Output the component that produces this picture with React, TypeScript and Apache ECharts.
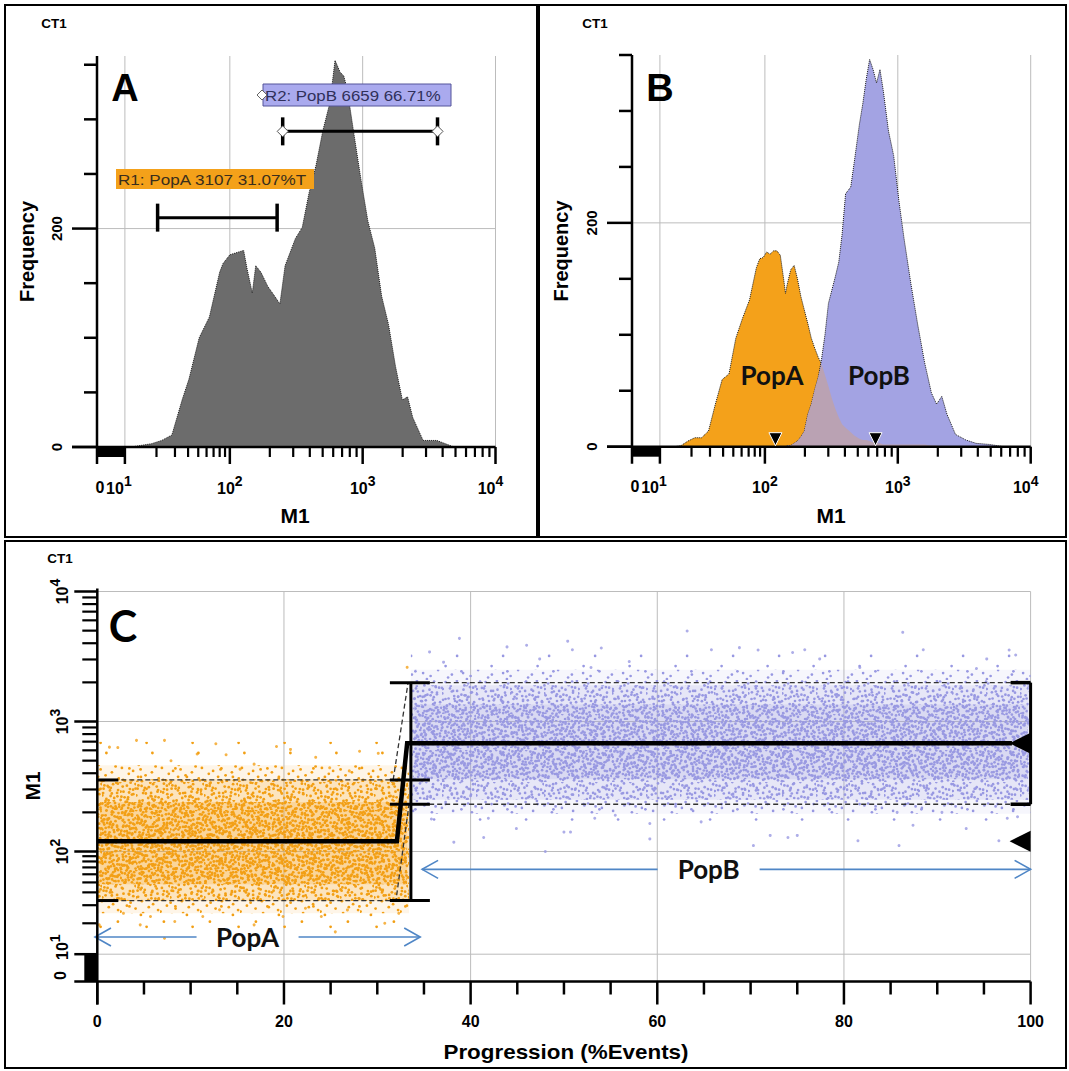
import React, { useEffect, useRef } from "react";
import * as echarts from "echarts";

// ---------------- Panel A: all events (log10 of M1, frequency) ----------------
const histALog10M1 = [1.058, 1.253, 1.351, 1.448, 1.545, 1.61, 1.708, 1.805, 1.903, 1.935, 2.0, 2.078, 2.104, 2.13, 2.169, 2.195, 2.234, 2.286, 2.338, 2.377, 2.416, 2.494, 2.545, 2.597, 2.649, 2.701, 2.753, 2.792, 2.831, 2.857, 2.883, 2.935, 2.987, 3.039, 3.091, 3.143, 3.195, 3.247, 3.299, 3.338, 3.377, 3.455, 3.558, 3.688];
const histAFreq = [0, 3, 6, 11, 43, 62, 100, 119, 160, 168, 176, 179, 180, 163, 141, 166, 160, 147, 138, 131, 166, 191, 201, 233, 258, 290, 315, 354, 343, 340, 328, 286, 245, 207, 182, 138, 112, 74, 43, 46, 27, 6, 6, 0];

// ---------------- Panel B: the two populations on common bins ----------------
const histBLog10M1 = [1.072, 1.137, 1.202, 1.267, 1.332, 1.397, 1.463, 1.528, 1.593, 1.658, 1.723, 1.788, 1.853, 1.919, 1.951, 1.984, 2.013, 2.039, 2.065, 2.09, 2.116, 2.142, 2.155, 2.168, 2.194, 2.22, 2.245, 2.271, 2.297, 2.323, 2.349, 2.375, 2.401, 2.426, 2.452, 2.478, 2.504, 2.53, 2.556, 2.581, 2.607, 2.646, 2.672, 2.711, 2.736, 2.762, 2.788, 2.814, 2.84, 2.866, 2.891, 2.93, 2.969, 3.008, 3.047, 3.098, 3.15, 3.202, 3.253, 3.292, 3.331, 3.37, 3.434, 3.512, 3.589, 3.692, 3.796];
const histBPopA = [0, 0, 1, 5, 8, 8, 14, 38, 60, 65, 97, 115, 131, 160, 168, 169, 174, 172, 175, 175, 171, 149, 137, 145, 158, 162, 150, 134, 122, 110, 97, 88, 80, 74, 64, 54, 43, 34, 26, 20, 17, 13, 10, 7, 6, 6, 5, 4, 3, 3, 2, 2, 2, 2, 2, 2, 2, 2, 1, 1, 0, 0, 0, 0, 0, 0, 0];
const histBPopB = [0, 0, 0, 0, 0, 0, 0, 0, 0, 0, 0, 0, 0, 0, 0, 0, 0, 0, 0, 0, 0, 0, 0, 1, 1, 3, 5, 9, 14, 29, 38, 51, 62, 78, 100, 128, 140, 152, 165, 190, 226, 232, 254, 288, 306, 328, 346, 337, 325, 337, 318, 282, 260, 220, 186, 146, 109, 75, 48, 38, 45, 29, 11, 6, 3, 2, 0];

// ---------------- Axis ticks ----------------
const freqTicks = [0, 50, 100, 150, 200, 250, 300, 350];
const freqLabelTicks = [0, 200];
const decadeTicks = [10, 100, 1000, 10000];
const minorLogTicks = [20, 30, 40, 50, 60, 70, 80, 90, 200, 300, 400, 500, 600, 700, 800, 900, 2000, 3000, 4000, 5000, 6000, 7000, 8000, 9000];
const progressionTicks = [0, 20, 40, 60, 80, 100];
const progressionMinorTicks = [5, 10, 15, 25, 30, 35, 45, 50, 55, 65, 70, 75, 85, 90, 95];

// ---------------- Gates (panel A): [low M1, high M1, frequency level] ----------------
const gateR1 = [20.5, 227, 210];
const gateR2 = [250, 3660, 289];
const gateLabels = ["R1: PopA 3107 31.07%T", "R2: PopB 6659 66.71%"];

// ---------------- Medians (M1) ----------------
const medians = [120, 680];

// ---------------- Panel C statistics ----------------
const splitProgression = 33.6;
const popABounds = [33.3, 355];
const popBBounds = [231, 1990];
const upperEnvelope = [[0, 355], [31.7, 355], [33.3, 1990], [100, 1990]];
const lowerEnvelope = [[0, 33.3], [32.0, 33.3], [33.4, 231], [100, 231]];
const medianPath = [[0, 120], [32.1, 120], [33.2, 680], [98, 680]];

// dense event clouds: [start %, end %, low M1, high M1, density level]
const popABands = [
  [0, 33.4, 16, 700, 0],
  [0, 33.4, 25, 460, 1],
  [0, 33.4, 33, 360, 2],
  [0.3, 33.2, 48, 240, 3],
];
const popBBands = [
  [33.6, 100, 140, 3300, 0],
  [33.6, 100, 195, 2500, 1],
  [33.8, 99.8, 250, 1900, 2],
  [34, 99.7, 360, 1350, 3],
];
// isolated events: [progression %, M1]
const popAOutliers = [[1.3, 635], [2.2, 630], [4.2, 716], [7.2, 716], [10.7, 563], [12.7, 675], [13.8, 555], [16.8, 470], [19.2, 643], [20.7, 610], [23.4, 530], [28.1, 590], [30.1, 569], [33.2, 2610], [7.9, 499], [15.3, 430], [24.9, 440], [27.0, 417], [0.2, 19.3], [2.8, 25], [4.6, 19.3], [5.7, 23.3], [8.3, 20.8], [11.3, 23.3], [13.1, 27.1], [16.8, 19.3], [19.9, 23.3], [22.3, 28], [24.0, 23.3], [25.5, 16.5], [26.8, 27], [30.8, 20], [32.3, 25], [7.2, 14.3]];
const popBOutliers = [[50.4, 4150], [54.0, 3680], [50.9, 3560], [57.0, 2890], [63.2, 4970], [65.8, 3560], [68.8, 3700], [70.8, 3550], [74.5, 3390], [75.8, 3560], [77.4, 3030], [86.3, 4850], [88.5, 3560], [94.2, 2560], [97.7, 3550], [98.4, 3250], [95.3, 3030], [81.7, 2600], [47.4, 3030], [52.9, 2600], [38.8, 4360], [35.6, 3430], [37.1, 2860], [43.9, 3750], [46.0, 3860], [48, 100], [50, 141], [50.7, 141], [59.2, 125], [59.2, 164], [64.7, 169], [70.3, 111], [72.1, 133], [74, 128], [75, 133], [81.5, 121], [85.7, 200], [85.9, 111], [87.4, 159], [93.1, 150], [96.6, 121], [97.5, 180], [98.6, 185], [53.3, 180], [55.5, 190], [90.5, 200], [38.2, 118], [41.4, 128], [44.9, 150], [41.9, 180], [35.8, 178]];

// population arrows: from %, to %, M1 level, label position %
const arrowLabels = ["PopA", "PopB"];
const arrowSpans = [[-0.25, 34.6, 14.7, 16.1], [34.8, 100, 67, 65.5]];

// ---------------- Scale: 0 region + compressed first decade + log ----------------
const ZF = 0.21;
const uLog = (L: number) => (L >= 2 ? L - 1 : ZF + (L - 1) * (1 - ZF));
const uVal = (v: number) => (v <= 0 ? 0 : v < 10 ? (ZF * v) / 10 : uLog(Math.log10(v)));

const FAM = "'Liberation Sans', Arial, sans-serif";
const FAM2 = "Lato, 'Open Sans', sans-serif";
const BLACK = "#000";
const GRID_GRAY = "#bcbcbc";
const ORANGE = "#F4A11A";
const LAVENDER = "#A3A3E3";
const MAUVE = "#BAA2B3";
const HIST_GRAY = "#6c6c6c";
const BLUE = "#4F86C6";

function seg(x1: number, y1: number, x2: number, y2: number, w = 2.5, color = BLACK, dash?: number[]) {
  const style: any = { stroke: color, lineWidth: w };
  if (dash) style.lineDash = dash;
  return { type: "line", shape: { x1, y1, x2, y2 }, style };
}

function txt(x: number, y: number, text: string, o: any = {}) {
  const style: any = {
    text,
    fill: o.color || BLACK,
    fontSize: o.size || 16,
    fontFamily: o.fam || FAM,
    fontWeight: o.weight || "bold",
    align: o.align || "center",
    verticalAlign: o.va || "middle",
    textAlign: o.align || "center",
    textVerticalAlign: o.va || "middle",
  };
  if (o.rich) style.rich = o.rich;
  const el: any = { type: "text", x, y, rotation: o.rot || 0, scaleX: o.sx || 1, scaleY: o.sy || 1, silent: true, style };
  if (o.z != null) el.z = o.z;
  return el;
}

function supTxt(x: number, y: number, base: string, exp: string, o: any = {}) {
  return txt(x, y, `{b|${base}}{s|${exp}}`, {
    ...o,
    rich: {
      b: { fontSize: 16, fontWeight: "bold", fontFamily: FAM, lineHeight: 22, verticalAlign: "bottom", fill: BLACK },
      s: { fontSize: 14, fontWeight: "bold", fontFamily: FAM, verticalAlign: "top", fill: BLACK },
    },
  });
}

function halton(i: number, b: number) {
  let f = 1, r = 0;
  while (i > 0) {
    f /= b;
    r += f * (i % b);
    i = Math.floor(i / b);
  }
  return r;
}

function dotTile(color: string, n: number, size: number, rad: number, offset: number) {
  let c = "";
  for (let i = 1; i <= n; i++) {
    const x = halton(i + offset, 2) * size;
    const y = halton(i + offset, 3) * size;
    c += `<circle cx="${x.toFixed(1)}" cy="${y.toFixed(1)}" r="${rad}" fill="${color}"/>`;
  }
  const svg = `<svg xmlns="http://www.w3.org/2000/svg" width="${size}" height="${size}">${c}</svg>`;
  return { image: "data:image/svg+xml;charset=utf-8," + encodeURIComponent(svg), repeat: "repeat", imageWidth: size, imageHeight: size };
}

const tileSizes = [46, 40, 34, 30];
const tileCountsA = [5, 26, 44, 44];
const tileCountsB = [5, 24, 40, 40];
const baseOpacityA = [0, 0.1, 0.2, 0.22];
const baseOpacityB = [0, 0.1, 0.18, 0.2];
const tilesA = tileSizes.map((s, i) => dotTile("#F29F14", tileCountsA[i], s, 1.4, 7 + 19 * i));
const tilesB = tileSizes.map((s, i) => dotTile("#9898E2", tileCountsB[i], s, 1.35, 11 + 23 * i));

function histGridLines(maxF: number) {
  return (params: any, api: any) => {
    const P = (u: number, f: number) => api.coord([u, f]);
    const [x0, yb] = P(0, 0);
    const x3 = P(3, 0)[0];
    const yTop = P(0, maxF)[1];
    const ch: any[] = decadeTicks.map((v) => {
      const x = P(uVal(v), 0)[0];
      return seg(x, yTop, x, yb, 1, GRID_GRAY);
    });
    const y200 = P(0, 200)[1];
    ch.push(seg(x0, y200, x3, y200, 1, GRID_GRAY));
    return { type: "group", children: ch };
  };
}

function histDecor(maxF: number) {
  return (params: any, api: any) => {
    const P = (u: number, f: number) => api.coord([u, f]);
    const [x0, yb] = P(0, 0);
    const x3 = P(3, 0)[0];
    const yTop = P(0, maxF)[1];
    const xz = P(uVal(10), 0)[0];
    const ch: any[] = [];
    ch.push(seg(x0 - 25, yb, x3, yb));
    ch.push(seg(x0, yTop, x0, yb + 17));
    freqTicks.forEach((f) => {
      const y = P(0, f)[1];
      ch.push(seg(x0 - (freqLabelTicks.includes(f) ? 25 : 13), y, x0, y));
    });
    ch.push({ type: "rect", shape: { x: x0, y: yb, width: xz - x0, height: 10 }, style: { fill: BLACK } });
    decadeTicks.forEach((v) => {
      const x = P(uVal(v), 0)[0];
      ch.push(seg(x, yb, x, yb + 17));
    });
    minorLogTicks.forEach((v) => {
      const x = P(uVal(v), 0)[0];
      ch.push(seg(x, yb, x, yb + 10, 2.2));
    });
    freqLabelTicks.forEach((f) => {
      const y = P(0, f)[1];
      ch.push(txt(x0 - 41, y, String(f), { rot: Math.PI / 2, size: 15 }));
    });
    ch.push(txt(x0 + 3, yb + 40, "0", { size: 16 }));
    decadeTicks.forEach((v, i) => {
      const x = P(uVal(v), 0)[0];
      const dx = i === 0 ? -6 : i === 3 ? -5 : 0;
      ch.push(supTxt(x + dx, yb + 38, "10", String(Math.round(Math.log10(v)))));
    });
    return { type: "group", children: ch };
  };
}

function medianMarkers(params: any, api: any) {
  const ch: any[] = medians.map((m) => {
    const [x, yb] = api.coord([uVal(m), 0]);
    return {
      type: "polygon",
      shape: { points: [[x - 6.5, yb - 14], [x + 6.5, yb - 14], [x, yb - 1]] },
      style: { fill: BLACK, stroke: "#fff", lineWidth: 1 },
    };
  });
  return { type: "group", children: ch };
}

function gateRender(params: any, api: any) {
  const lo = api.value(0), hi = api.value(1), lvl = api.value(2);
  const a = api.coord([uVal(lo), lvl]);
  const b = api.coord([uVal(hi), lvl]);
  const ch: any[] = [seg(a[0], a[1], b[0], b[1], 3), seg(a[0], a[1] - 14, a[0], a[1] + 14, 3.5), seg(b[0], b[1] - 14, b[0], b[1] + 14, 3.5)];
  if (params.dataIndex === 1) {
    [a, b].forEach((p) => {
      ch.push({
        type: "polygon",
        shape: { points: [[p[0] - 5.5, p[1]], [p[0], p[1] - 5.5], [p[0] + 5.5, p[1]], [p[0], p[1] + 5.5]] },
        style: { fill: "#fff", stroke: "#555", lineWidth: 1 },
      });
    });
  }
  return { type: "group", children: ch };
}

function cGridLines(params: any, api: any) {
  const P = (x: number, u: number) => api.coord([x, u]);
  const [x0, yb] = P(0, 0);
  const xE = P(100, 0)[0];
  const yTop = P(0, 3)[1];
  const ch: any[] = [];
  progressionTicks.slice(1).forEach((t) => {
    const x = P(t, 0)[0];
    ch.push(seg(x, yTop, x, yb, 1, GRID_GRAY));
  });
  decadeTicks.forEach((v) => {
    const y = P(0, uVal(v))[1];
    ch.push(seg(x0, y, xE, y, 1, GRID_GRAY));
  });
  return { type: "group", children: ch };
}

function cDecor(params: any, api: any) {
  const P = (x: number, u: number) => api.coord([x, u]);
  const [x0, yb] = P(0, 0);
  const xE = P(100, 0)[0];
  const yTop = P(0, 3)[1];
  const yz = P(0, uVal(10))[1];
  const ch: any[] = [];
  ch.push(seg(x0, yb, xE, yb));
  ch.push(seg(x0, yTop - 3, x0, yb + 23));
  ch.push(seg(x0 - 23, yb, x0, yb));
  decadeTicks.forEach((v) => {
    const y = P(0, uVal(v))[1];
    ch.push(seg(x0 - 23, y, x0, y));
  });
  minorLogTicks.forEach((v) => {
    const y = P(0, uVal(v))[1];
    ch.push(seg(x0 - 15, y, x0, y, 2.2));
  });
  ch.push({ type: "rect", shape: { x: x0 - 13, y: yz, width: 13, height: yb - yz }, style: { fill: BLACK } });
  progressionTicks.forEach((t) => {
    const x = P(t, 0)[0];
    ch.push(seg(x, yb, x, yb + 23));
    ch.push(txt(x, yb + 40, String(t), { size: 16 }));
  });
  progressionMinorTicks.forEach((t) => {
    const x = P(t, 0)[0];
    ch.push(seg(x, yb, x, yb + 13));
  });
  decadeTicks.forEach((v, i) => {
    const y = P(0, uVal(v))[1];
    const e = String(Math.round(Math.log10(v)));
    ch.push(supTxt(x0 - 38, y + (i === 0 ? -7 : 0), "10", e, { rot: Math.PI / 2 }));
  });
  ch.push(txt(x0 - 37, yb - 6, "0", { size: 16, rot: Math.PI / 2 }));
  return { type: "group", children: ch };
}

function cBands(tiles: any[], color: string, baseOpacity: number[]) {
  return (params: any, api: any) => {
    const x0 = api.value(0), x1 = api.value(1), lo = api.value(2), hi = api.value(3), lvl = api.value(4);
    const p0 = api.coord([x0, uVal(hi)]);
    const p1 = api.coord([x1, uVal(lo)]);
    const shape = { x: p0[0], y: p0[1], width: p1[0] - p0[0], height: p1[1] - p0[1] };
    return {
      type: "group",
      children: [
        { type: "rect", shape, style: { fill: color, opacity: baseOpacity[lvl] } },
        { type: "rect", shape, style: { fill: tiles[lvl] } },
      ],
    };
  };
}

function cStats(params: any, api: any) {
  const P = (x: number, v: number) => api.coord([x, uVal(v)]);
  const ch: any[] = [];
  const dash = [5, 3];
  [upperEnvelope, lowerEnvelope].forEach((env) => {
    ch.push({ type: "polyline", shape: { points: env.map(([x, v]) => P(x, v)) }, style: { stroke: "#333", lineWidth: 1.3, lineDash: dash, fill: null } });
  });
  ch.push({ type: "polyline", shape: { points: medianPath.map(([x, v]) => P(x, v)) }, style: { stroke: BLACK, lineWidth: 4.5, fill: null } });
  const s0 = P(splitProgression, popABounds[0]);
  const s1 = P(splitProgression, popBBounds[1]);
  ch.push(seg(s0[0], s0[1], s1[0], s1[1], 3));
  const e0 = P(100, popBBounds[0]);
  const e1 = P(100, popBBounds[1]);
  ch.push(seg(e0[0], e0[1], e1[0], e1[1], 3));
  popABounds.forEach((v) => {
    const p = P(0, v);
    ch.push(seg(p[0], p[1], p[0] + 21, p[1], 3));
  });
  [...popABounds, ...popBBounds].forEach((v) => {
    const p = P(splitProgression, v);
    ch.push(seg(p[0] - 21, p[1], p[0] + 19, p[1], 3));
  });
  popBBounds.forEach((v) => {
    const p = P(100, v);
    ch.push(seg(p[0] - 20, p[1], p[0], p[1], 3.5));
  });
  medians.forEach((m) => {
    const p = P(100, m);
    ch.push({ type: "polygon", shape: { points: [[p[0] - 21, p[1]], [p[0], p[1] - 10.5], [p[0], p[1] + 10.5]] }, style: { fill: BLACK } });
  });
  return { type: "group", children: ch };
}

function cArrows(params: any, api: any) {
  const ch: any[] = [];
  arrowSpans.forEach(([from, to, level, at], i) => {
    const a = api.coord([from, uVal(level)]);
    const b = api.coord([to, uVal(level)]);
    const m = api.coord([at, uVal(level)]);
    const y = a[1];
    ch.push(seg(a[0], y, m[0] - 51, y, 1.6, BLUE));
    ch.push(seg(m[0] + 51, y, b[0], y, 1.6, BLUE));
    ch.push({ type: "polyline", shape: { points: [[a[0] + 16, y - 9], [a[0], y], [a[0] + 16, y + 9]] }, style: { stroke: BLUE, lineWidth: 1.6, fill: null } });
    ch.push({ type: "polyline", shape: { points: [[b[0] - 16, y - 9], [b[0], y], [b[0] - 16, y + 9]] }, style: { stroke: BLUE, lineWidth: 1.6, fill: null } });
    ch.push(txt(m[0], y, arrowLabels[i], { fam: FAM2, size: 26, color: "#111" }));
  });
  return { type: "group", children: ch };
}

function gText(x: number, y: number, text: string, o: any = {}) {
  return txt(x, y, text, { ...o, z: 100 });
}

function buildOption(): any {
  const areaLine = (xi: number, data: number[][], color: string, outline: boolean, z: number) => ({
    type: "line",
    xAxisIndex: xi,
    yAxisIndex: xi,
    data,
    symbol: "none",
    silent: true,
    z,
    lineStyle: outline ? { color: "#1a1a1a", width: 1, type: "dotted" } : { width: 0, opacity: 0 },
    areaStyle: { color, opacity: 1 },
  });
  const custom = (xi: number, renderItem: any, z: number, data: any[] = [[0, 0]]) => ({
    type: "custom",
    xAxisIndex: xi,
    yAxisIndex: xi,
    data,
    renderItem,
    z,
    silent: true,
    clip: false,
  });

  const histA = histALog10M1.map((L, i) => [uLog(L), histAFreq[i]]);
  const bA = histBLog10M1.map((L, i) => [uLog(L), histBPopA[i]]);
  const bB = histBLog10M1.map((L, i) => [uLog(L), histBPopB[i]]);
  const bAB = histBLog10M1.map((L, i) => [uLog(L), Math.min(histBPopA[i], histBPopB[i])]);

  const graphicEls: any[] = [
    { type: "rect", z: 100, shape: { x: 5, y: 5, width: 532, height: 532 }, style: { fill: "none", stroke: BLACK, lineWidth: 2 } },
    { type: "rect", z: 100, shape: { x: 539, y: 5, width: 527, height: 532 }, style: { fill: "none", stroke: BLACK, lineWidth: 2 } },
    { type: "rect", z: 100, shape: { x: 5, y: 541, width: 1061, height: 527 }, style: { fill: "none", stroke: BLACK, lineWidth: 2 } },
    gText(54, 24, "CT1", { size: 12, sx: 1.12 }),
    gText(595, 24, "CT1", { size: 12, sx: 1.12 }),
    gText(60, 559, "CT1", { size: 12, sx: 1.12 }),
    gText(125, 88, "A", { size: 38 }),
    gText(660, 88, "B", { size: 38 }),
    gText(123, 625, "C", { size: 43, fam: FAM2 }),
    gText(27, 251.5, "Frequency", { size: 20, rot: Math.PI / 2 }),
    gText(561, 251, "Frequency", { size: 20, rot: Math.PI / 2 }),
    gText(295, 515, "M1", { size: 21 }),
    gText(831, 515, "M1", { size: 21 }),
    gText(32, 786, "M1", { size: 21, rot: Math.PI / 2 }),
    gText(566, 1052, "Progression (%Events)", { size: 20, sx: 1.12 }),
    gText(772, 375, "PopA", { size: 26, fam: FAM2, color: "#111" }),
    gText(879, 375, "PopB", { size: 26, fam: FAM2, color: "#111" }),
    { type: "rect", z: 100, shape: { x: 116, y: 169, width: 198, height: 20 }, style: { fill: ORANGE } },
    gText(118, 179.5, gateLabels[0], { size: 14.5, weight: "normal", align: "left", sx: 1.18, color: "#3a2e1c" }),
    { type: "rect", z: 100, shape: { x: 263, y: 84, width: 188, height: 22 }, style: { fill: "#AAAAEE", stroke: "#55559a", lineWidth: 1 } },
    gText(265, 95.5, gateLabels[1], { size: 14.5, weight: "normal", align: "left", sx: 1.16, color: "#30305a" }),
    { type: "polygon", z: 101, shape: { points: [[257, 95], [262, 90], [267, 95], [262, 100]] }, style: { fill: "#fff", stroke: "#666", lineWidth: 1 } },
  ];

  return {
    animation: false,
    backgroundColor: "#fff",
    grid: [
      { left: 97, top: 56, width: 398.5, height: 391 },
      { left: 632, top: 55, width: 398.7, height: 391.7 },
      { left: 97.3, top: 591.5, width: 933.3, height: 390 },
    ],
    xAxis: [
      { gridIndex: 0, type: "value", min: 0, max: 3, show: false },
      { gridIndex: 1, type: "value", min: 0, max: 3, show: false },
      { gridIndex: 2, type: "value", min: 0, max: 100, show: false },
    ],
    yAxis: [
      { gridIndex: 0, type: "value", min: 0, max: 358, show: false },
      { gridIndex: 1, type: "value", min: 0, max: 350, show: false },
      { gridIndex: 2, type: "value", min: 0, max: 3, show: false },
    ],
    series: [
      custom(0, histGridLines(358), 1),
      areaLine(0, histA, HIST_GRAY, true, 2),
      custom(0, histDecor(358), 5),
      custom(0, gateRender, 6, [gateR1, gateR2]),
      custom(1, histGridLines(350), 1),
      areaLine(1, bA, ORANGE, true, 2),
      areaLine(1, bB, LAVENDER, true, 3),
      areaLine(1, bAB, MAUVE, false, 4),
      custom(1, histDecor(350), 5),
      custom(1, medianMarkers, 6),
      custom(2, cGridLines, 1),
      custom(2, cBands(tilesA, ORANGE, baseOpacityA), 2, popABands),
      custom(2, cBands(tilesB, LAVENDER, baseOpacityB), 2, popBBands),
      {
        type: "scatter", xAxisIndex: 2, yAxisIndex: 2, silent: true, z: 3, symbolSize: 3,
        data: popAOutliers.map(([x, v]) => [x, uVal(v)]), itemStyle: { color: ORANGE },
      },
      {
        type: "scatter", xAxisIndex: 2, yAxisIndex: 2, silent: true, z: 3, symbolSize: 3,
        data: popBOutliers.map(([x, v]) => [x, uVal(v)]), itemStyle: { color: "#9A9AE2" },
      },
      custom(2, cStats, 4),
      custom(2, cArrows, 4),
      custom(2, cDecor, 5),
    ],
    graphic: { elements: graphicEls },
  };
}

export default function App() {
  const ref = useRef<HTMLDivElement>(null);
  useEffect(() => {
    const chart = echarts.init(ref.current!, null, { renderer: "svg" });
    chart.setOption(buildOption());
    return () => chart.dispose();
  }, []);
  return <div ref={ref} style={{ position: "absolute", left: 0, top: 0, width: 1069, height: 1071, background: "#fff" }} />;
}
